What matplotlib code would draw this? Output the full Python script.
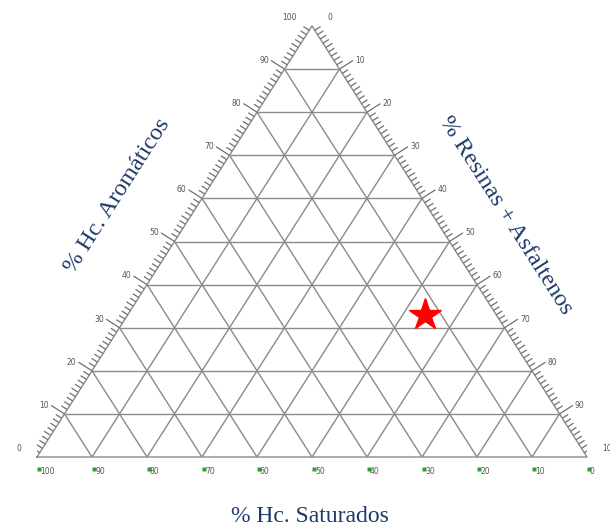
import numpy as np
import matplotlib.pyplot as plt
from matplotlib.collections import LineCollection

# muestra (%): saturados, aromáticos, resinas + asfaltenos
saturados = [13]
aromaticos = [33]
resinas_asfaltenos = [54]

divisiones = list(range(0, 101, 10))
etiquetas = [str(v) for v in divisiones]

titulo_sat = "% Hc. Saturados"
titulo_aro = "% Hc. Aromáticos"
titulo_res = "% Resinas + Asfaltenos"

W, H = 610, 532
x0, y0, ancho, alto = 37, 457, 550, 431   # triángulo en píxeles

fig = plt.figure(figsize=(W / 100, H / 100), dpi=100)
ax = fig.add_axes([x0 / W, (H - y0) / H, ancho / W, alto / H])
ax.set_xlim(0, 1)
ax.set_ylim(0, 1)
ax.axis("off")


def tern(s, a, r):
    t = s + a + r
    return (r + 0.5 * a) / t, a / t


def desplaza(p, dx, dy):
    # desplazamiento en píxeles (dy hacia arriba)
    return p[0] + dx / ancho, p[1] + dy / alto


gris = "#8a8a8a"
col_tick = "#707070"
col_txt = "#555555"
azul = "#1f3a68"

# rejilla
lineas = []
for v in divisiones[1:-1]:
    lineas.append([tern(100 - v, v, 0), tern(0, v, 100 - v)])
    lineas.append([tern(100 - v, 0, v), tern(0, 100 - v, v)])
    lineas.append([tern(v, 0, 100 - v), tern(v, 100 - v, 0)])
ax.add_collection(LineCollection(lineas, colors=gris, linewidths=1.0))

# bordes
borde = [tern(100, 0, 0), tern(0, 100, 0), tern(0, 0, 100), tern(100, 0, 0)]
ax.plot([p[0] for p in borde], [p[1] for p in borde], color=gris, lw=1.0,
        clip_on=False)

# normales hacia afuera (en píxeles)
lado = np.hypot(ancho / 2, alto)
n_izq = (-alto / lado, (ancho / 2) / lado)
n_der = (alto / lado, (ancho / 2) / lado)

marcas = []
for v in range(0, 101):
    largo = 16 if v % 10 == 0 else (8 if v % 5 == 0 else 7)
    # lado izquierdo: aromáticos
    p = tern(100 - v, v, 0)
    marcas.append([p, desplaza(p, n_izq[0] * largo, n_izq[1] * largo)])
    # lado derecho: resinas + asfaltenos
    p = tern(0, 100 - v, v)
    marcas.append([p, desplaza(p, n_der[0] * largo, n_der[1] * largo)])
    # base: saturados
    largo_b = 9 if v % 10 == 0 else (7 if v % 5 == 0 else 5)
    p = tern(v, 0, 100 - v)
    marcas.append([p, desplaza(p, 0, -largo_b)])
ax.add_collection(LineCollection(marcas, colors=col_tick, linewidths=0.9))

fs = 5.5
for v, txt in zip(divisiones, etiquetas):
    p = tern(100 - v, v, 0)
    ax.text(*desplaza(p, n_izq[0] * 16 - 2, n_izq[1] * 16), txt, fontsize=fs,
            color=col_txt, ha="right", va="center", clip_on=False)
    p = tern(0, 100 - v, v)
    ax.text(*desplaza(p, n_der[0] * 16 + 2, n_der[1] * 16), txt, fontsize=fs,
            color=col_txt, ha="left", va="center", clip_on=False)
    p = tern(v, 0, 100 - v)
    ax.plot(*desplaza(p, 2, -12), marker="s", ms=2.2, color="#2ca02c",
            mec="none", clip_on=False)
    ax.text(*desplaza(p, 3, -15), txt, fontsize=fs, color=col_txt,
            ha="left", va="center", clip_on=False)

# muestra
px, py = zip(*[tern(s, a, r) for s, a, r in
               zip(saturados, aromaticos, resinas_asfaltenos)])
ax.plot(px, py, linestyle="none", marker="*", ms=24, color="red",
        mec="red", clip_on=False, zorder=5)

ang = np.degrees(np.arctan2(alto, ancho / 2))
serif = "Liberation Serif"
fig.text(310 / W, 1 - 516 / H, titulo_sat, fontsize=17, family=serif,
         color=azul, ha="center", va="center")
fig.text(117 / W, 1 - 196 / H, titulo_aro, fontsize=17.5, family=serif,
         color=azul, ha="center", va="center", rotation=ang,
         rotation_mode="anchor")
fig.text(506 / W, 1 - 215 / H, titulo_res, fontsize=17.5, family=serif,
         color=azul, ha="center", va="center", rotation=-ang,
         rotation_mode="anchor")

fig.savefig("out.png", dpi=100)
